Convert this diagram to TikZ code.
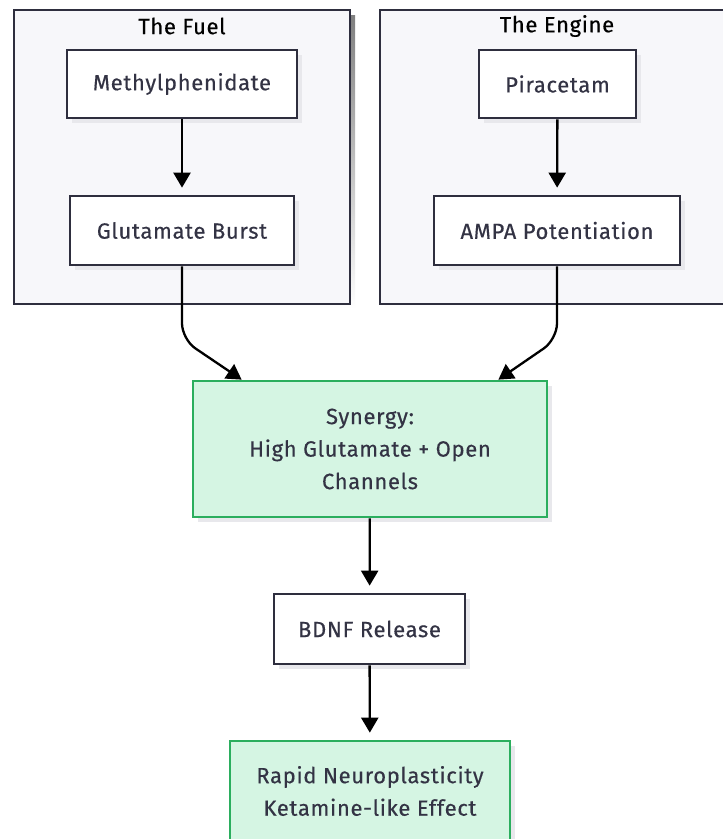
\documentclass[tikz,border=0pt]{standalone}
\usepackage{fontspec}
\setmainfont[LetterSpace=3,FakeBold=0.4]{Fira Sans}
\usetikzlibrary{arrows.meta,calc,shadows}

\definecolor{ink}{HTML}{333344}
\definecolor{edge}{HTML}{2E2E3E}
\definecolor{panel}{HTML}{F7F7FA}
\definecolor{mint}{HTML}{D5F5E3}
\definecolor{leaf}{HTML}{2BAE5E}
\definecolor{shade}{HTML}{E8E8EC}

\begin{document}
\begin{tikzpicture}[x=1pt,y=-1pt,
  txt/.style={font=\fontsize{22}{32.5}\selectfont},
  box/.style={draw=edge, line width=2.7pt, fill=white, text=ink, txt,
    align=center, inner sep=0pt,
    general shadow={fill=shade, shadow xshift=5pt, shadow yshift=-5pt}},
  good/.style={box, draw=leaf, fill=mint},
  cluster/.style={draw=edge, line width=2.7pt, fill=panel},
  flow/.style={line width=2.3pt, -{Triangle[width=17pt,length=15pt]}},
  gap/.style={shorten >=7pt}]
\clip (0,0) rectangle (723,839);
\fill[white] (0,0) rectangle (723,839);

% subgraph panels with their soft shadow
\fill[shade] (19,15) rectangle (355,309);
\fill[shade] (385,15) rectangle (732,309);
\draw[cluster] (14,10) rectangle (350,304);
\draw[cluster] (380,10) rectangle (727,304);
\node[txt, text=black] (fuelT) at (182,26) {The Fuel};
\node[txt, text=black] (engT) at (557,26) {The Engine};

% nodes
\node[box, minimum width=230pt, minimum height=68pt] (meth) at (182,84) {Methylphenidate};
\node[box, minimum width=224pt, minimum height=69pt] (glut) at (182,230.5) {Glutamate Burst};
\node[box, minimum width=157pt, minimum height=68pt] (pir) at (557.5,84) {Piracetam};
\node[box, minimum width=246pt, minimum height=69pt] (ampa) at (557,230.5) {AMPA Potentiation};
\node[good, minimum width=354pt, minimum height=136pt] (syn) at (370,449)
  {Synergy:\\High Glutamate + Open\\Channels};
\node[box, minimum width=191pt, minimum height=70pt] (bdnf) at (369.5,629) {BDNF Release};
\node[good, minimum width=280pt, minimum height=100pt] (rapid) at (370,791)
  {Rapid Neuroplasticity\\Ketamine-like Effect};

% connectors
\coordinate (synL) at ($(syn.north west)+(50,0)$);
\coordinate (synR) at ($(syn.north east)+(-50,0)$);
\draw[flow, gap] (meth) -- (glut);
\draw[flow, gap] (pir) -- (ampa);
\draw[flow, rounded corners=16pt] (glut.south) -- ++(0,73) -- (synL);
\draw[flow, rounded corners=16pt] (ampa.south) -- ++(0,73) -- (synR);
\draw[flow, gap] (syn) -- (bdnf);
\draw[flow, gap] (bdnf) -- (rapid);
\end{tikzpicture}
\end{document}
